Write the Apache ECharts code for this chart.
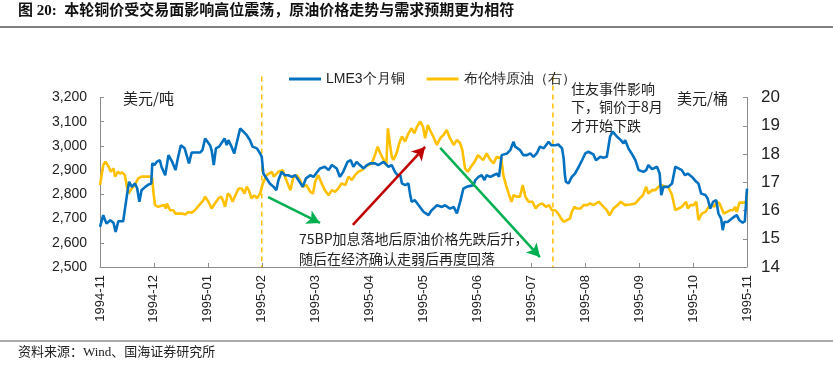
<!DOCTYPE html>
<html><head><meta charset="utf-8">
<script src="https://cdn.jsdelivr.net/npm/echarts@6/dist/echarts.min.js"></script>
<style>html,body{margin:0;padding:0;background:#fff}#c{width:833px;height:372px}</style>
</head><body><div id="c"></div>
<script>
// x = months elapsed since 1994-11 (tick i -> tickLabels[i])
const tickLabels = ['1994-11','1994-12','1995-01','1995-02','1995-03','1995-04','1995-05','1995-06','1995-07','1995-08','1995-09','1995-10','1995-11'];
const seriesNames = ['LME3个月铜','布伦特原油（右）'];
const copper = [[0,2666],[0.06,2714],[0.12,2679],[0.19,2693],[0.25,2683],[0.29,2645],[0.34,2689],[0.43,2689],[0.5,2797],[0.54,2852],[0.59,2831],[0.65,2845],[0.69,2824],[0.73,2769],[0.77,2817],[0.84,2831],[0.9,2841],[0.95,2845],[0.97,2928],[1.01,2921],[1.05,2934],[1.11,2941],[1.14,2914],[1.21,2879],[1.27,2962],[1.34,2934],[1.4,2900],[1.45,2955],[1.5,3003],[1.57,2990],[1.65,2928],[1.7,2973],[1.76,2973],[1.86,2973],[1.9,2983],[1.95,3031],[2.04,3003],[2.07,2983],[2.11,2921],[2.15,2990],[2.21,2997],[2.31,3031],[2.35,3003],[2.38,3024],[2.44,2997],[2.49,2969],[2.54,3017],[2.6,3072],[2.66,3059],[2.72,3045],[2.78,3024],[2.83,2997],[2.91,2990],[2.97,2969],[3.0,2955],[3.03,2886],
[3.06,2879],[3.15,2845],[3.22,2831],[3.27,2817],[3.31,2859],[3.37,2893],[3.43,2879],[3.49,2879],[3.56,2872],[3.62,2879],[3.68,2859],[3.71,2866],[3.76,2831],[3.82,2866],[3.9,2879],[3.96,2872],[4.02,2890],[4.08,2907],[4.17,2914],[4.24,2900],[4.3,2921],[4.39,2907],[4.45,2872],[4.51,2893],[4.59,2934],[4.65,2941],[4.7,2914],[4.76,2934],[4.82,2921],[4.89,2907],[4.95,2921],[5.01,2928],[5.1,2928],[5.16,2921],[5.26,2934],[5.35,2914],[5.41,2921],[5.47,2893],[5.52,2879],[5.57,2879],[5.6,2845],[5.66,2838],[5.72,2845],[5.75,2803],[5.78,2769],[5.84,2776],[5.91,2755],[6.0,2728],
[6.09,2714],[6.15,2734],[6.25,2755],[6.34,2748],[6.4,2755],[6.49,2741],[6.56,2748],[6.62,2721],[6.68,2769],[6.74,2824],[6.8,2831],[6.87,2835],[6.93,2838],[6.96,2859],[7.02,2872],[7.08,2879],[7.13,2859],[7.17,2879],[7.24,2872],[7.3,2879],[7.36,2886],[7.4,2872],[7.45,2962],[7.55,2969],[7.61,2983],[7.67,3017],[7.7,2997],[7.73,3003],[7.79,2983],[7.85,2962],[7.92,2962],[7.98,2969],[8.04,2955],[8.1,2969],[8.16,2997],[8.23,2990],[8.26,2983],[8.32,3017],[8.37,3003],[8.44,3003],[8.5,3006],[8.57,2990],[8.6,2948],[8.62,2886],[8.64,2852],[8.69,2845],[8.75,2872],[8.81,2886],[8.88,2914],[8.94,2941],[9.0,2969],[9.06,2976],
[9.15,2965],[9.2,2941],[9.28,2955],[9.34,2951],[9.4,2955],[9.46,3038],[9.51,3059],[9.59,3038],[9.66,3024],[9.71,3010],[9.74,3024],[9.8,2990],[9.86,2969],[9.93,2941],[9.99,2900],[10.08,2893],[10.13,2900],[10.17,2921],[10.24,2904],[10.33,2914],[10.38,2886],[10.41,2797],[10.45,2831],[10.54,2831],[10.61,2845],[10.67,2914],[10.73,2907],[10.79,2900],[10.85,2879],[10.9,2886],[10.98,2872],[11.06,2852],[11.1,2845],[11.15,2803],[11.23,2797],[11.27,2783],[11.32,2741],[11.37,2769],[11.43,2776],[11.47,2721],[11.52,2700],[11.55,2652],[11.58,2686],[11.64,2686],[11.72,2700],[11.76,2707],[11.81,2714],[11.86,2693],[11.92,2683],[11.96,2689],[12,2824]];
const brent = [[0,16.90],[0.06,17.61],[0.1,17.73],[0.16,17.55],[0.2,17.37],[0.25,17.49],[0.28,17.20],[0.33,17.37],[0.37,17.31],[0.41,17.35],[0.46,17.25],[0.5,16.84],[0.53,16.60],[0.59,16.78],[0.65,16.92],[0.71,17.14],[0.77,17.20],[0.84,17.20],[0.93,17.20],[0.97,17.14],[0.99,16.66],[1.02,16.19],[1.08,16.13],[1.14,16.17],[1.19,16.19],[1.22,16.07],[1.24,16.25],[1.3,16.01],[1.36,16.01],[1.4,15.89],[1.45,15.89],[1.52,15.89],[1.58,15.86],[1.64,15.95],[1.7,15.92],[1.76,16.01],[1.84,16.19],[1.92,16.37],[1.95,16.49],[2.01,16.31],[2.07,16.07],[2.13,16.25],[2.2,16.43],[2.25,16.49],[2.29,16.31],[2.32,16.13],[2.37,16.60],[2.41,16.54],[2.46,16.31],[2.5,16.49],[2.57,16.78],[2.63,16.78],[2.68,16.60],[2.72,16.84],[2.76,16.72],[2.81,16.43],[2.86,16.54],[2.91,16.43],[2.97,16.60],[3.02,16.96],
[3.09,17.25],[3.19,17.37],[3.22,17.20],[3.25,17.14],[3.31,17.37],[3.39,17.43],[3.43,17.20],[3.48,16.96],[3.53,16.72],[3.59,17.20],[3.65,17.25],[3.71,17.08],[3.76,16.84],[3.83,16.90],[3.9,16.66],[3.95,16.60],[3.99,17.02],[4.05,17.25],[4.11,16.96],[4.17,16.72],[4.24,16.54],[4.3,16.72],[4.36,16.66],[4.42,16.78],[4.48,16.96],[4.55,16.90],[4.61,17.20],[4.67,17.08],[4.73,17.25],[4.79,17.37],[4.86,17.43],[4.92,17.55],[4.98,17.61],[5.04,17.67],[5.1,17.96],[5.15,18.26],[5.2,18.02],[5.26,17.79],[5.31,17.61],[5.34,18.91],[5.38,18.32],[5.41,17.91],[5.44,17.79],[5.5,18.02],[5.55,18.38],[5.6,18.62],[5.66,18.44],[5.72,18.73],[5.78,18.91],[5.83,18.73],[5.88,18.97],[5.94,19.15],[5.99,18.97],[6.03,18.56],[6.08,19.03],[6.12,18.85],[6.18,18.62],[6.25,18.32],[6.31,18.56],[6.37,18.67],[6.43,18.85],[6.49,18.56],[6.56,18.32],[6.62,18.50],[6.68,18.38],[6.72,18.14],[6.77,17.49],[6.82,17.37],[6.88,17.55],[6.95,17.73],[7.01,17.96],[7.07,17.85],[7.11,17.79],[7.17,18.02],[7.24,17.79],[7.3,17.67],[7.36,17.91],[7.4,17.85],[7.44,17.91],[7.48,17.25],[7.53,16.90],[7.58,16.60],[7.63,16.31],[7.67,16.54],[7.73,16.49],[7.79,16.49],[7.84,16.90],[7.89,16.49],[7.95,16.31],[8.02,16.31],[8.08,16.07],[8.13,16.19],[8.2,16.25],[8.27,16.13],[8.33,16.19],[8.38,16.01],[8.44,16.01],[8.5,15.89],[8.55,15.72],[8.6,15.60],[8.66,15.66],[8.72,15.72],[8.75,15.95],[8.8,16.13],[8.84,16.07],[8.91,16.07],[8.97,16.19],[9.03,16.19],[9.09,16.25],[9.15,16.19],
[9.18,16.25],[9.25,16.31],[9.31,16.19],[9.4,16.01],[9.45,15.83],[9.52,16.07],[9.6,16.19],[9.66,16.31],[9.74,16.19],[9.83,16.21],[9.93,16.25],[10.01,16.43],[10.07,16.54],[10.13,16.84],[10.17,16.60],[10.24,16.72],[10.3,16.72],[10.36,16.84],[10.42,16.90],[10.48,16.84],[10.54,16.84],[10.61,16.54],[10.67,16.01],[10.73,16.07],[10.79,16.13],[10.87,16.31],[10.9,16.07],[10.95,16.19],[11.01,16.19],[11.06,16.31],[11.1,15.66],[11.16,15.89],[11.23,15.95],[11.29,16.13],[11.35,16.19],[11.39,16.13],[11.44,16.31],[11.49,16.25],[11.57,15.89],[11.63,15.95],[11.69,16.01],[11.74,16.01],[11.78,16.13],[11.81,15.95],[11.86,16.28],[11.94,16.28],[11.99,16.31],[12,16.66]];
// event dates (month position) marked by dashed lines
const eventMarks = [3.0, 8.4];
// arrows in (month, copper USD/t) coordinates: [start, end, colour]
const arrows = [
  [[3.12,2789],[4.08,2682],'#00B050'],
  [[4.69,2674],[6.03,2996],'#C00000'],
  [[6.31,2992],[8.16,2541],'#00B050']
];
const titleText = '图 20:  本轮铜价受交易面影响高位震荡，原油价格走势与需求预期更为相符';
const sourceText = '资料来源：Wind、国海证券研究所';
const note1 = ['住友事件影响','下，铜价于8月','才开始下跌'];
const note2 = ['75BP加息落地后原油价格先跌后升，','随后在经济确认走弱后再度回落'];
const unitLeft = '美元/吨', unitRight = '美元/桶';

const chart = echarts.init(document.getElementById('c'), null, {renderer:'canvas'});
const CJK = '"Noto Sans CJK SC", sans-serif';
const SANS = '"Liberation Sans", Arial, sans-serif';
const axisGray = '#8c8c8c';
const option = {
  animation:false,
  backgroundColor:'#fff',
  grid:{left:100, right:86, top:97.5, bottom:105},
  legend:{
    left:284, top:67, icon:'rect', itemWidth:32, itemGap:22, itemHeight:3,
    textStyle:{fontSize:14, color:'#222', fontFamily:SANS},
    data:seriesNames
  },
  xAxis:{
    type:'value', min:0, max:12, interval:1,
    axisLine:{lineStyle:{color:axisGray}},
    axisTick:{inside:true, length:4, lineStyle:{color:axisGray}},
    splitLine:{show:false},
    axisLabel:{rotate:90, margin:8, fontSize:13, color:'#222', fontFamily:SANS,
      formatter:v=>tickLabels[Math.round(v)]}
  },
  yAxis:[
    {type:'value', min:2500, max:3200, interval:100, position:'left',
     axisLine:{show:true, lineStyle:{color:axisGray}},
     axisTick:{show:true, inside:true, length:4, lineStyle:{color:axisGray}},
     splitLine:{show:false},
     axisLabel:{fontSize:14, color:'#222', fontFamily:SANS, margin:13,
       formatter:v=>v.toLocaleString('en-US')}},
    {type:'value', min:14, max:20, interval:1, position:'right',
     axisLine:{show:true, lineStyle:{color:axisGray}},
     axisTick:{show:true, inside:true, length:4, lineStyle:{color:axisGray}},
     splitLine:{show:false},
     axisLabel:{fontSize:17, color:'#222', fontFamily:SANS, margin:14}}
  ],
  series:[
    {name:seriesNames[0], type:'line', yAxisIndex:0, data:copper, symbol:'none',
     lineStyle:{color:'#0070C0', width:2.6}, itemStyle:{color:'#0070C0'}, z:3,
     markLine:{silent:true, symbol:['none','arrow'], symbolSize:[11,13], label:{show:false},
       data:arrows.map(a=>[{coord:a[0], lineStyle:{color:a[2], width:2.5, type:'solid'}},{coord:a[1]}])}},
    {name:seriesNames[1], type:'line', yAxisIndex:1, data:brent, symbol:'none',
     lineStyle:{color:'#FFC000', width:2.6}, itemStyle:{color:'#FFC000'}, z:2}
  ]
};
chart.setOption(option);

const gTop = chart.convertToPixel({gridIndex:0}, [0, 3200])[1];
const gBot = chart.convertToPixel({gridIndex:0}, [0, 2500])[1];
const graphics = [];
eventMarks.forEach(m=>{
  const x = chart.convertToPixel({gridIndex:0}, [m, 2500])[0];
  graphics.push({type:'line', shape:{x1:x, y1:gTop-21, x2:x, y2:gBot},
    style:{stroke:'#FFC000', lineWidth:1.5, lineDash:[5,4]}, z:1});
});
graphics.push(
  {type:'text', left:18, top:4, style:{text:titleText, font:'bold 15px "Liberation Serif", "Noto Sans CJK SC", serif', fill:'#111'}},
  {type:'line', shape:{x1:0, y1:27, x2:833, y2:27}, style:{stroke:'#555', lineWidth:1.5}},
  {type:'line', shape:{x1:0, y1:341, x2:833, y2:341}, style:{stroke:'#555', lineWidth:1.2}},
  {type:'text', left:18, top:346, style:{text:sourceText, font:'13px "Liberation Serif", "Noto Sans CJK SC", serif', fill:'#222'}},
  {type:'text', left:123, top:91, style:{text:unitLeft, font:'15px '+CJK, fill:'#222'}},
  {type:'text', left:677, top:91, style:{text:unitRight, font:'15px '+CJK, fill:'#222'}},
  {type:'text', left:571, top:79, style:{text:note1.join('\n'), font:'14px '+CJK, lineHeight:18.5, fill:'#222'}},
  {type:'text', left:299, top:229, style:{text:note2.join('\n'), font:'14px '+CJK, lineHeight:20, fill:'#222'}}
);
chart.setOption({graphic:graphics});
</script></body></html>
